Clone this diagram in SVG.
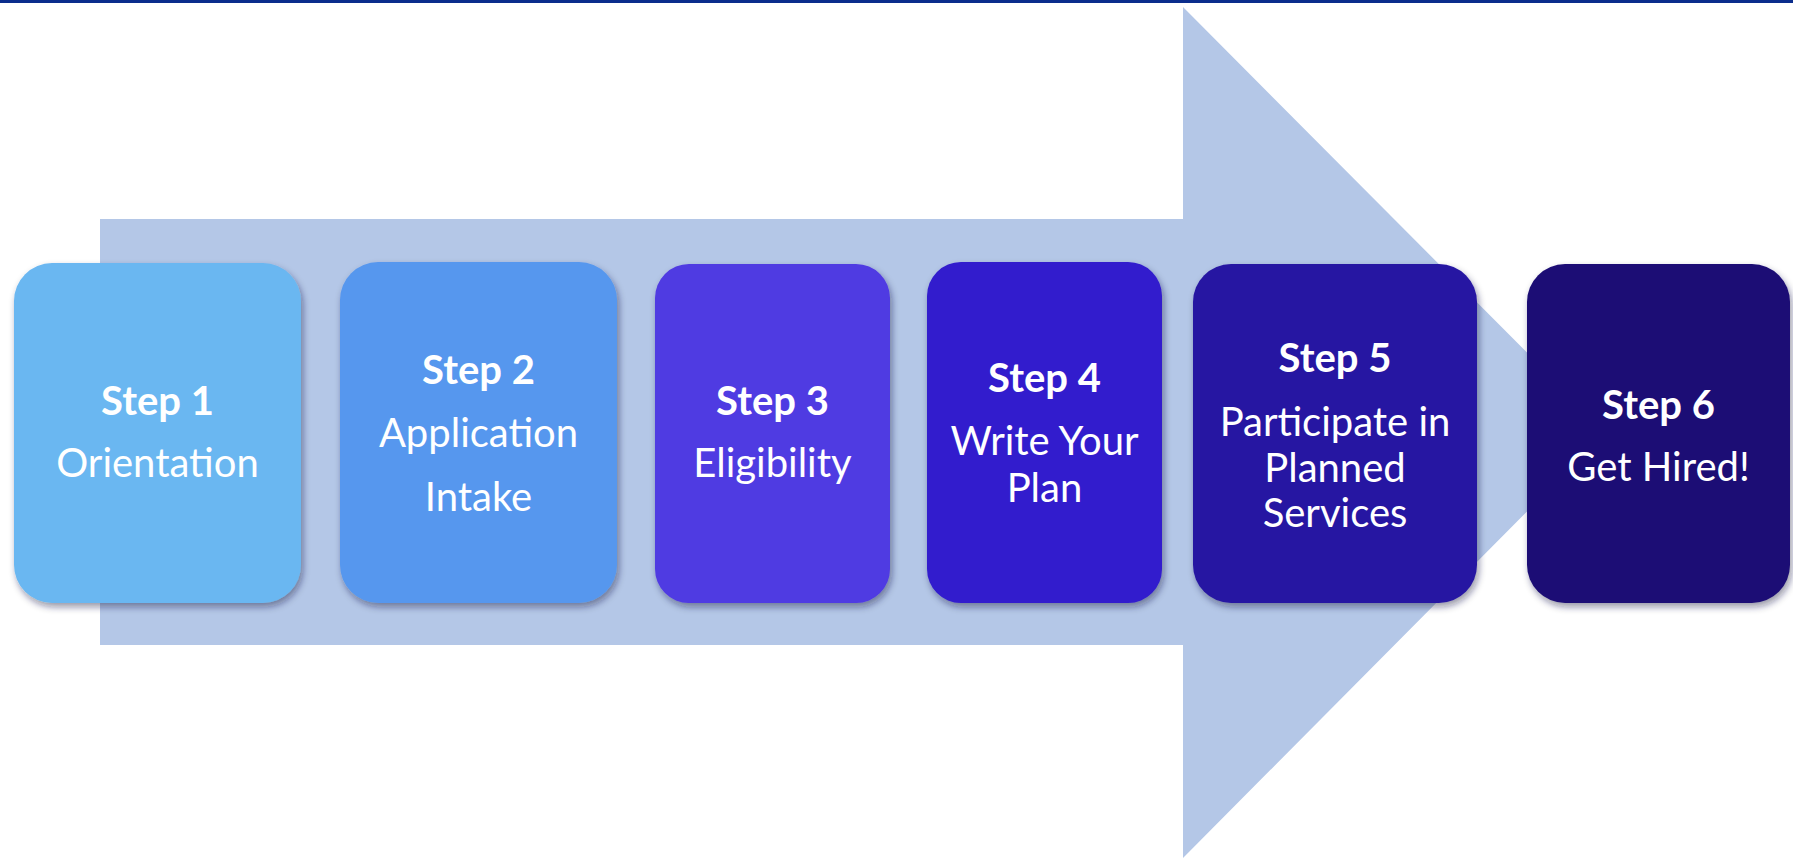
<svg xmlns="http://www.w3.org/2000/svg" width="1793" height="859" viewBox="0 0 1793 859">
  <style>
    .step { fill: #ffffff; font-family: "Lato", "Open Sans", "Liberation Sans", sans-serif; font-size: 40px; text-anchor: middle; }
    .head { font-weight: bold; }
    .box { filter: url(#shadow); }
  </style>
  <defs>
    <filter id="shadow" x="-20%" y="-20%" width="140%" height="140%">
      <feDropShadow dx="2" dy="4" stdDeviation="3.5" flood-color="#1a1f40" flood-opacity="0.45"/>
    </filter>
  </defs>

  <rect x="0" y="0" width="1793" height="859" fill="#ffffff"/>
  <!-- top rule -->
  <rect x="0" y="0" width="1793" height="3" fill="#0b2d8c"/>

  <!-- big background arrow -->
  <g id="connectors">
    <path d="M100,219 L1183,219 L1183,7 L1606,432 L1183,858 L1183,645 L100,645 Z" fill="#b4c7e7"/>
  </g>

  <g id="step1">
    <rect class="box" x="14" y="263" width="287" height="340" rx="38" fill="#6bb7f1"/>
    <text class="step head" x="157.5" y="415">Step 1</text>
    <text class="step" x="157.5" y="477">Orientation</text>
  </g>

  <g id="step2">
    <rect class="box" x="340" y="262" width="277" height="341" rx="38" fill="#5797ee"/>
    <text class="step head" x="478.5" y="384">Step 2</text>
    <text class="step" x="478.5" y="447">Application</text>
    <text class="step" x="478.5" y="511">Intake</text>
  </g>

  <g id="step3">
    <rect class="box" x="655" y="264" width="235" height="339" rx="34" fill="#503ae2"/>
    <text class="step head" x="772.5" y="415">Step 3</text>
    <text class="step" x="772.5" y="477">Eligibility</text>
  </g>

  <g id="step4">
    <rect class="box" x="927" y="262" width="235" height="341" rx="34" fill="#301bcd"/>
    <text class="step head" x="1044.5" y="392">Step 4</text>
    <text class="step" x="1044.5" y="455">Write Your</text>
    <text class="step" x="1044.5" y="502">Plan</text>
  </g>

  <g id="step5">
    <rect class="box" x="1193" y="264" width="284" height="339" rx="38" fill="#2716a2"/>
    <text class="step head" x="1335" y="372">Step 5</text>
    <text class="step" x="1335" y="436">Participate in</text>
    <text class="step" x="1335" y="482">Planned</text>
    <text class="step" x="1335" y="527">Services</text>
  </g>

  <g id="step6">
    <rect class="box" x="1527" y="264" width="263" height="339" rx="38" fill="#1d1174"/>
    <text class="step head" x="1658.5" y="419">Step 6</text>
    <text class="step" x="1658.5" y="481">Get Hired!</text>
  </g>
</svg>
